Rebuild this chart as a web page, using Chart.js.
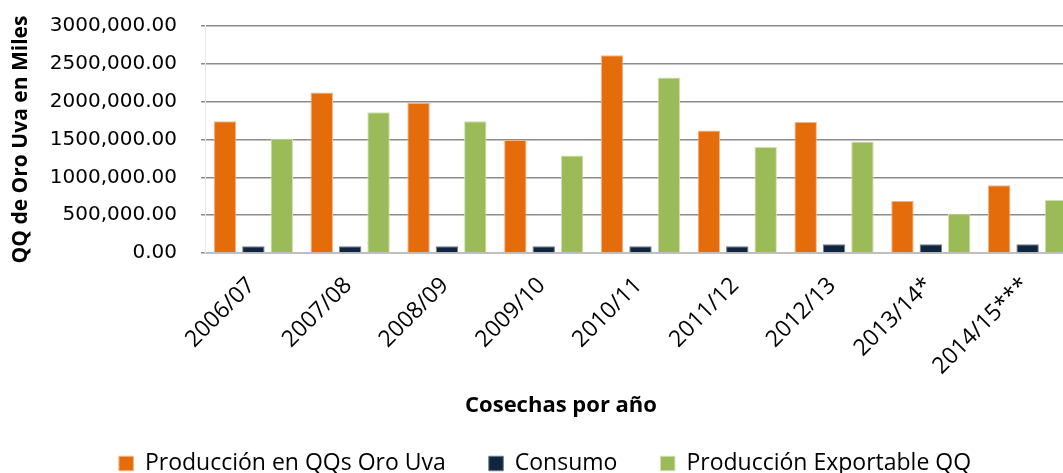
<!DOCTYPE html>
<html>
<head>
<meta charset="utf-8">
<script src="https://cdn.jsdelivr.net/npm/chart.js@4.4.1/dist/chart.umd.min.js"></script>
<style>
  html, body { margin: 0; padding: 0; background: #fff; overflow: hidden; }
  #wrap { width: 1063px; height: 473px; overflow: hidden; }
</style>
</head>
<body>
<div id="wrap"><canvas id="chart" width="1090" height="485"></canvas></div>
<script>
const cosechas = ["2006/07", "2007/08", "2008/09", "2009/10", "2010/11", "2011/12", "2012/13", "2013/14*", "2014/15***"];
const produccion = [1740000, 2120000, 1985000, 1495000, 2615000, 1620000, 1730000, 690000, 895000];
const consumo = [90000, 90000, 90000, 90000, 90000, 90000, 116000, 116000, 116000];
const exportable = [1510000, 1860000, 1740000, 1290000, 2320000, 1400000, 1475000, 520000, 700000];
const yTickLabels = ["0.00", "500,000.00", "1000,000.00", "1500,000.00", "2000,000.00", "2500,000.00", "3000,000.00"];

const FONT = "'Open Sans', 'Noto Sans', sans-serif";
const TICK_FONT = "'DejaVu Sans', sans-serif";

// x axis title is drawn by hand: in the source it is not centred on the axis
const axisTitlePlugin = {
  id: "axisTitle",
  afterDraw(chart, args, opts) {
    const ctx = chart.ctx;
    ctx.save();
    ctx.font = "bold 22px " + FONT;
    ctx.fillStyle = "#000";
    ctx.textAlign = "center";
    ctx.textBaseline = "middle";
    ctx.fillText(opts.text, opts.x, opts.y);
    ctx.restore();
  },
};

const ctx = document.getElementById("chart").getContext("2d");
new Chart(ctx, {
  type: "bar",
  data: {
    labels: cosechas,
    datasets: [
      {
        label: "Producción en QQs Oro Uva",
        data: produccion,
        backgroundColor: "#E46C0A",
        borderColor: "#F3B58A",
        borderWidth: 1,
      },
      {
        label: "Consumo",
        data: consumo,
        backgroundColor: "#10253F",
        borderColor: "#6F7B8B",
        borderWidth: 1,
      },
      {
        label: "Producción Exportable QQ",
        data: exportable,
        backgroundColor: "#9BBB59",
        borderColor: "#CFE0B2",
        borderWidth: 1,
      },
    ],
  },
  options: {
    responsive: false,
    animation: false,
    categoryPercentage: 0.88,
    barPercentage: 0.79,
    layout: { padding: { top: 26, left: 14, right: 14, bottom: 0 } },
    plugins: {
      legend: {
        position: "bottom",
        labels: {
          boxWidth: 14.5,
          boxHeight: 14.5,
          padding: 43,
          color: "#000",
          font: { family: FONT, size: 23 },
        },
      },
      tooltip: { enabled: false },
      axisTitle: { text: "Cosechas por año", x: 561, y: 406 },
    },
    scales: {
      x: {
        grid: { display: false },
        border: { color: "#BFBFBF", width: 2 },
        ticks: {
          minRotation: 45,
          maxRotation: 45,
          color: "#000",
          padding: 11,
          labelOffset: -2,
          font: { family: FONT, size: 23 },
        },
        afterFit: (scale) => {
          scale.height = 156;
        },
      },
      y: {
        min: 0,
        max: 3000000,
        ticks: {
          stepSize: 500000,
          color: "#000",
          padding: 0,
          font: { family: TICK_FONT, size: 20 },
          callback: (value, index) => yTickLabels[index],
        },
        // long tick slot keeps the labels away from the axis, only its last 4px are drawn
        grid: { color: "#8C8C8C", lineWidth: 1.5, tickLength: 28, tickBorderDash: [0, 24, 4, 0] },
        border: { color: "#EDE9DF", width: 1 },
        title: {
          display: true,
          text: "QQ de Oro Uva en Miles",
          color: "#000",
          font: { family: FONT, size: 21, weight: "bold", lineHeight: 1 },
          padding: { top: -3, bottom: 0 },
        },
        afterFit: (scale) => {
          scale.width = 191;
        },
      },
    },
  },
  plugins: [axisTitlePlugin],
});
</script>
</body>
</html>
